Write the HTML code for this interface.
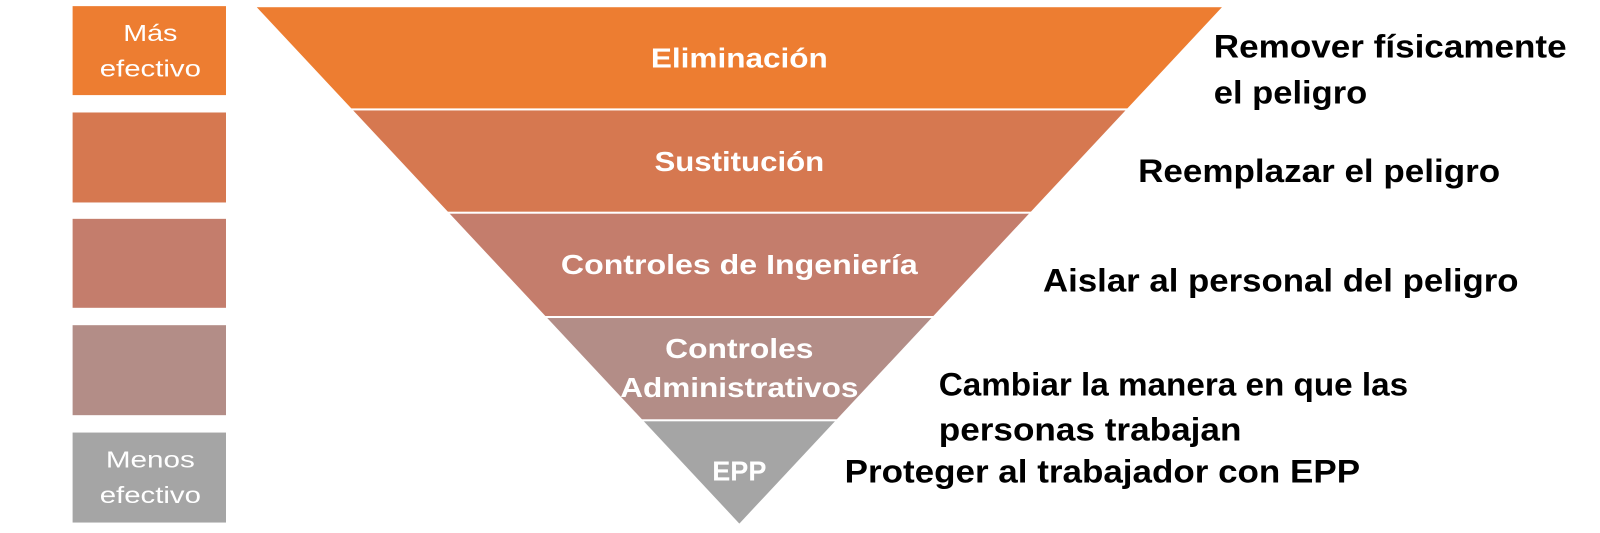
<!DOCTYPE html>
<html><head><meta charset="utf-8"><style>
html,body{margin:0;padding:0;background:#fff;}
svg{display:block;}
</style></head><body>
<svg width="1600" height="533" viewBox="0 0 1600 533" xmlns="http://www.w3.org/2000/svg">
<defs><clipPath id="tri"><polygon points="251,7 1195,7 723,512"/></clipPath></defs>
<g transform="scale(1.0226)">
<rect x="71" y="6" width="150" height="87" fill="#ED7D31"/>
<rect x="71" y="110" width="150" height="88" fill="#D67850"/>
<rect x="71" y="214" width="150" height="87" fill="#C47D6C"/>
<rect x="71" y="318" width="150" height="88" fill="#B38D87"/>
<rect x="71" y="423" width="150" height="88" fill="#A5A5A5"/>
<g font-family="Liberation Sans, sans-serif" font-size="23" fill="#fff" text-anchor="middle">
<text x="147" y="40" textLength="53" lengthAdjust="spacingAndGlyphs">Más</text>
<text x="147" y="75" textLength="99" lengthAdjust="spacingAndGlyphs">efectivo</text>
<text x="147" y="457" textLength="87" lengthAdjust="spacingAndGlyphs">Menos</text>
<text x="147" y="492" textLength="99" lengthAdjust="spacingAndGlyphs">efectivo</text>
</g>
<g clip-path="url(#tri)">
<rect x="0" y="0" width="1600" height="106" fill="#ED7D31"/>
<rect x="0" y="108" width="1600" height="99" fill="#D67850"/>
<rect x="0" y="209" width="1600" height="100" fill="#C47D6C"/>
<rect x="0" y="311" width="1600" height="99" fill="#B38D87"/>
<rect x="0" y="412" width="1600" height="121" fill="#A5A5A5"/>
</g>
<g font-family="Liberation Sans, sans-serif" font-weight="bold" font-size="27" fill="#fff" text-anchor="middle">
<text x="723" y="66" textLength="173" lengthAdjust="spacingAndGlyphs">Eliminación</text>
<text x="723" y="167" textLength="166" lengthAdjust="spacingAndGlyphs">Sustitución</text>
<text x="723" y="268" textLength="349" lengthAdjust="spacingAndGlyphs">Controles de Ingeniería</text>
<text x="723" y="350" textLength="145" lengthAdjust="spacingAndGlyphs">Controles</text>
<text x="723" y="388" textLength="233" lengthAdjust="spacingAndGlyphs">Administrativos</text>
<text x="723" y="470" textLength="53" lengthAdjust="spacingAndGlyphs">EPP</text>
</g>
<g font-family="Liberation Sans, sans-serif" font-weight="bold" font-size="32" fill="#000">
<text x="1187" y="56" textLength="345" lengthAdjust="spacingAndGlyphs">Remover físicamente</text>
<text x="1187" y="101" textLength="150" lengthAdjust="spacingAndGlyphs">el peligro</text>
<text x="1113" y="178" textLength="354" lengthAdjust="spacingAndGlyphs">Reemplazar el peligro</text>
<text x="1020" y="285" textLength="465" lengthAdjust="spacingAndGlyphs">Aislar al personal del peligro</text>
<text x="918" y="387" textLength="459" lengthAdjust="spacingAndGlyphs">Cambiar la manera en que las</text>
<text x="918" y="431" textLength="296" lengthAdjust="spacingAndGlyphs">personas trabajan</text>
<text x="826" y="472" textLength="504" lengthAdjust="spacingAndGlyphs">Proteger al trabajador con EPP</text>
</g>
</g>
</svg>
</body></html>
